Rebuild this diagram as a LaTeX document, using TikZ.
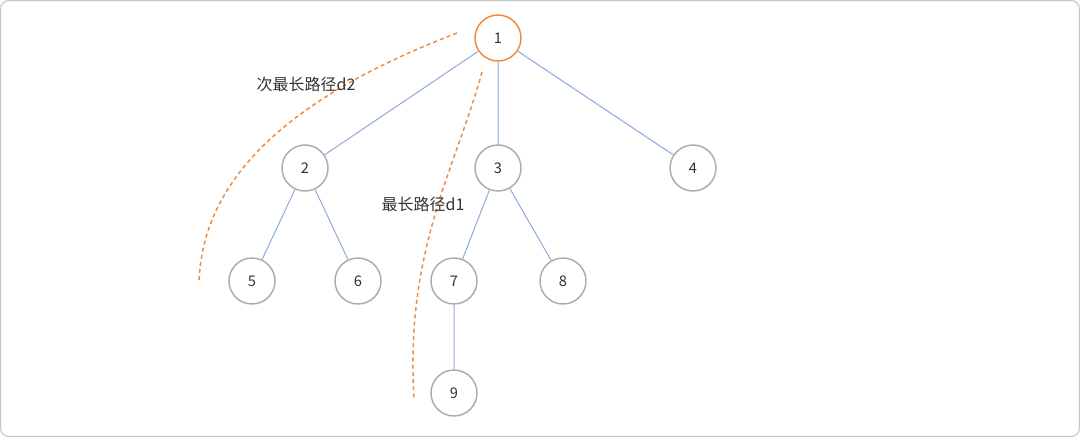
\documentclass[tikz,border=0pt]{standalone}
\usepackage{fontspec}
\setmainfont{Noto Sans CJK SC}
\definecolor{treeblue}{HTML}{8EAADB}
\definecolor{pathorange}{HTML}{F08A3C}
\definecolor{ringgray}{HTML}{ACACAC}
\definecolor{textgray}{HTML}{333333}
\begin{document}
\begin{tikzpicture}[x=0.75pt, y=-0.75pt]
\useasboundingbox (0,0) rectangle (1080,437);
\draw[ringgray!70, line width=0.8pt, rounded corners=6pt] (0.6,0.6) rectangle (1079.4,436.4);
% ends of the two dashed paths
\coordinate (s2) at (457,33);
\coordinate (e2) at (199,283);
\coordinate (s1) at (482,72);
\coordinate (e1) at (414,399);
\tikzstyle{every node} = [circle, draw=ringgray, line width=1.1pt, fill=white, minimum size=34.5pt, inner sep=0pt, text=textgray, font=\fontsize{11}{13}\selectfont]
\node[draw=pathorange] (v1) at (498,38) {1};
\node (v2) at (305,168) {2};
\node (v3) at (498,168) {3};
\node (v4) at (693,168) {4};
\node (v5) at (252,281) {5};
\node (v6) at (358,281) {6};
\node (v7) at (454,281) {7};
\node (v8) at (563,281) {8};
\node (v9) at (454,393) {9};
\draw[treeblue, line width=0.75pt] (v1) -- (v2)
	(v1) -- (v3)
	(v1) -- (v4)
	(v2) -- (v5)
	(v2) -- (v6)
	(v3) -- (v7)
	(v3) -- (v8)
	(v7) -- (v9);
\draw[pathorange, line width=1.1pt, dash pattern=on 3pt off 2.4pt] (s2) .. controls (295,95) and (202,175) .. (e2);
\draw[pathorange, line width=1.1pt, dash pattern=on 3pt off 2.4pt] (s1) .. controls (455,170) and (405,250) .. (e1);
\tikzstyle{every node} = [inner sep=0pt, text=textgray, font=\fontsize{12}{14}\selectfont]
\node (d2) at (306,84) {次最长路径d2};
\node (d1) at (423,204) {最长路径d1};
\end{tikzpicture}
\end{document}
